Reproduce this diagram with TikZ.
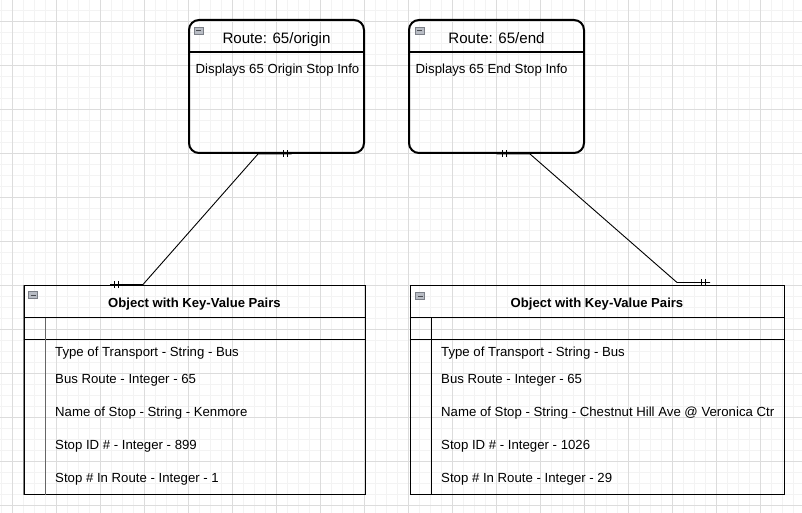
\documentclass[tikz,border=0pt]{standalone}
\usepackage{fontspec}
\setmainfont{Liberation Sans}
\usetikzlibrary{positioning}

\definecolor{gridminor}{HTML}{F3F3F3}
\definecolor{gridmajor}{HTML}{DCDCDC}
\definecolor{iconfill}{HTML}{B8BCC4}
\definecolor{icondraw}{HTML}{7A7E86}

\tikzset{
  routebox/.style={draw, line width=2pt, rounded corners=10pt,
    minimum width=175pt, minimum height=133pt, inner sep=0pt},
  tablebox/.style={draw, line width=1pt, minimum height=209pt, inner sep=0pt},
  link/.style={line width=0.9pt},
  row/.style={anchor=base west, inner sep=0pt, font=\fontsize{13.2}{15}\selectfont},
  icon/.style={draw=icondraw, fill=iconfill, minimum width=9pt, minimum height=7pt,
    inner sep=0pt, line width=0.6pt}
}

\begin{document}
\begin{tikzpicture}[x=1pt, y=-1pt]
    \useasboundingbox (0,0) rectangle (802,513);
    % grid
    \foreach \x in {1.5,12.5,...,802} \draw[gridminor, line width=0.8pt] (\x,0) -- (\x,513);
    \foreach \y in {10.5,21.5,...,513} \draw[gridminor, line width=0.8pt] (0,\y) -- (802,\y);
    \foreach \x in {12.5,56.5,...,802} \draw[gridmajor, line width=0.8pt] (\x,0) -- (\x,513);
    \foreach \y in {21.5,65.5,...,513} \draw[gridmajor, line width=0.8pt] (0,\y) -- (802,\y);

    % routes
    \node[routebox] (orig) at (276.5,86.5) {};
    \node[routebox, right=43pt of orig] (endr) {};
    \draw[line width=2pt] ([yshift=-33pt]orig.north west) -- ([yshift=-33pt]orig.north east);
    \draw[line width=2pt] ([yshift=-33pt]endr.north west) -- ([yshift=-33pt]endr.north east);
    \node [anchor=base, font=\fontsize{15.1}{17}\selectfont] at (276.5,43.3) {Route: 65/origin};
    \node [anchor=base, font=\fontsize{15.1}{17}\selectfont] at (496.5,43.3) {Route: 65/end};
    \node [row] at (195.5,74) {Displays 65 Origin Stop Info};
    \node [row] at (415.5,74) {Displays 65 End Stop Info};

    % tables
    \node[tablebox, minimum width=341pt] (tabl) at (194.5,389.5) {};
    \node[tablebox, minimum width=374pt] (tabr) at (597,389.5) {};
    \draw[gray, line width=1.6pt] (tabl.north west) -- (tabl.south west);
    \foreach \t/\c in {tabl/gray!80!black, tabr/black} {
      \draw[line width=1pt] ([yshift=-33pt]\t.north west) -- ([yshift=-33pt]\t.north east);
      \draw[line width=1pt] ([yshift=-55pt]\t.north west) -- ([yshift=-55pt]\t.north east);
      \draw[\c, line width=1.2pt] ([xshift=22pt,yshift=-33pt]\t.north west) -- ([xshift=22pt]\t.south west);
    }
    \node [anchor=base, font=\bfseries\fontsize{13.1}{15}\selectfont] at (194.5,307.3) {Object with Key-Value Pairs};
    \node [anchor=base, font=\bfseries\fontsize{13.1}{15}\selectfont] at (597,307.3) {Object with Key-Value Pairs};

    \node [row] (l1) at (55,356) {Type of Transport - String - Bus};
    \node [row] (l2) at (55,383.3) {Bus Route - Integer - 65};
    \node [row] (l3) at (55,416.7) {Name of Stop - String - Kenmore};
    \node [row] (l4) at (55,449.3) {Stop ID \# - Integer - 899};
    \node [row] (l5) at (55,482.5) {Stop \# In Route - Integer - 1};

    \node [row] (r1) at (441,356) {Type of Transport - String - Bus};
    \node [row] (r2) at (441,383.3) {Bus Route - Integer - 65};
    \node [row] (r3) at (441,416.7) {Name of Stop - String - Chestnut Hill Ave @ Veronica Ctr};
    \node [row] (r4) at (441,449.3) {Stop ID \# - Integer - 1026};
    \node [row] (r5) at (441,482.5) {Stop \# In Route - Integer - 29};

    % collapse icons
    \foreach \p/\n in {{(198.5,30.5)}/i1, {(419.5,30.5)}/i2, {(33,295)}/i3, {(420,296)}/i4} {
      \node[icon] (\n) at \p {};
      \draw[icondraw!60!black, line width=0.8pt] ([xshift=-2.5pt]\n.center) -- ([xshift=2.5pt]\n.center);
    }

    % connectors
    \draw[link] ([xshift=15pt]orig.south) -- ([xshift=-18.5pt]orig.south)
      -- ([xshift=-51.5pt]tabl.north) -- ([xshift=-84.5pt]tabl.north);
    \draw[link] (endr.south) -- ([xshift=33.5pt]endr.south)
      -- ([xshift=80pt,yshift=2pt]tabr.north) -- ([xshift=113pt,yshift=2pt]tabr.north);
    % one-and-only-one marks
    \foreach \s in {7pt,10.5pt} \draw[link] ([xshift=\s]orig.south) ++(0,-3.5) -- ++(0,7);
    \foreach \s in {5.5pt,9.5pt} \draw[link] ([xshift=\s]endr.south) ++(0,-3.5) -- ++(0,7);
    \foreach \s in {-80pt,-76pt} \draw[link] ([xshift=\s]tabl.north) ++(0,-3.5) -- ++(0,7);
    \foreach \s in {104.5pt,108.5pt} \draw[link] ([xshift=\s,yshift=2pt]tabr.north) ++(0,-3.5) -- ++(0,7);
\end{tikzpicture}
\end{document}
